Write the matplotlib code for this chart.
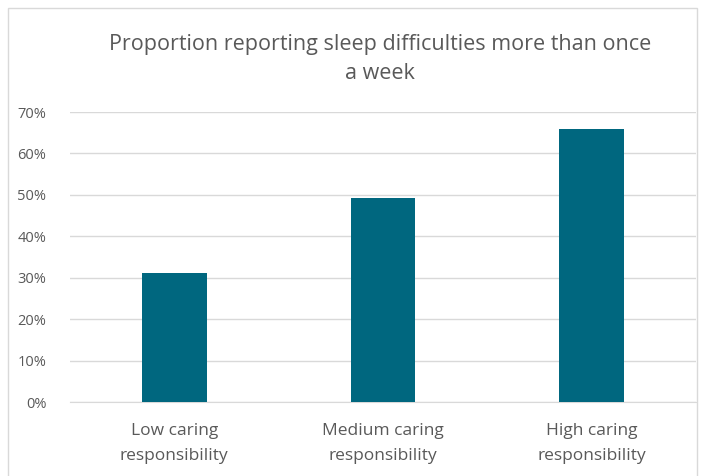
import matplotlib

matplotlib.use("Agg")
import matplotlib.pyplot as plt
from matplotlib.patches import Rectangle
from matplotlib.ticker import PercentFormatter

categories = ["Low caring\nresponsibility", "Medium caring\nresponsibility", "High caring\nresponsibility"]
values = [0.312, 0.492, 0.659]
y_ticks = [0.0, 0.1, 0.2, 0.3, 0.4, 0.5, 0.6, 0.7]

text_color = "#595959"
bar_color = "#00677F"

plt.rcParams["font.family"] = ["Open Sans", "DejaVu Sans"]

fig = plt.figure(figsize=(7.05, 4.76), dpi=100)
fig.patches.append(
    Rectangle((8 / 705, -0.05), 689 / 705, 1.05 - 8 / 476, transform=fig.transFigure,
              fill=False, edgecolor="#d9d9d9", linewidth=1.0)
)
ax = fig.add_axes([70 / 705, 1 - 402 / 476, 626 / 705, 290 / 476])

x = range(len(categories))
ax.bar(x, values, width=0.31, color=bar_color, zorder=3)
ax.set_xlim(-0.5, 2.5)
ax.set_ylim(0, 0.7)
ax.set_yticks(y_ticks)
ax.yaxis.set_major_formatter(PercentFormatter(1.0, decimals=0))
ax.set_xticks(list(x))
ax.set_xticklabels(categories, fontsize=12.5, color=text_color, linespacing=1.8)
ax.tick_params(axis="y", labelsize=10.5, colors=text_color, length=0, pad=17)
ax.tick_params(axis="x", length=0, pad=15)
ax.grid(axis="y", color="#d9d9d9", linewidth=1.0, zorder=0)
for side in ["top", "right", "left"]:
    ax.spines[side].set_visible(False)
ax.spines["bottom"].set_color("#d9d9d9")

fig.text(380 / 705, 1 - 59 / 476, "Proportion reporting sleep difficulties more than once\na week",
         ha="center", va="center", fontsize=15.5, color=text_color, linespacing=1.55)

fig.savefig("out.png", dpi=100)
plt.close(fig)
